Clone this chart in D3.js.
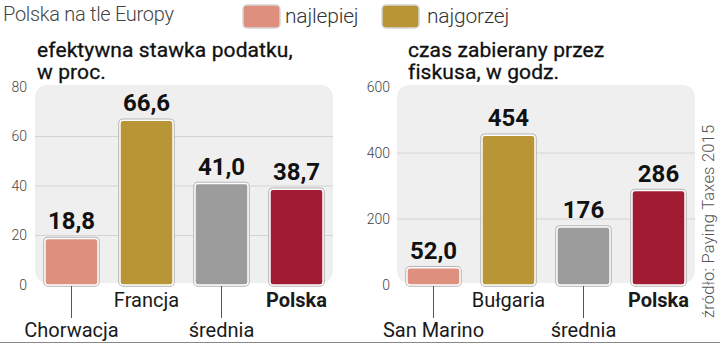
<!DOCTYPE html>
<html>
<head>
<meta charset="utf-8">
<script src="https://cdn.jsdelivr.net/npm/d3@7"></script>
<style>
  html, body { margin: 0; padding: 0; background: #fff; }
  svg { display: block; }
  text { font-family: Roboto, "Liberation Sans", sans-serif; }
</style>
</head>
<body>
<svg id="chart" width="720" height="344"></svg>
<script>
// ---- data ----
const title = "Polska na tle Europy";
const legendLabels = ["najlepiej", "najgorzej"];
const leftSubtitle = ["efektywna stawka podatku,", "w proc."];
const leftCategories = ["Chorwacja", "Francja", "średnia", "Polska"];
const leftValues = [18.8, 66.6, 41.0, 38.7];
const leftValueLabels = ["18,8", "66,6", "41,0", "38,7"];
const leftTicks = [0, 20, 40, 60, 80];
const rightSubtitle = ["czas zabierany przez", "fiskusa, w godz."];
const rightCategories = ["San Marino", "Bułgaria", "średnia", "Polska"];
const rightValues = [52.0, 454, 176, 286];
const rightValueLabels = ["52,0", "454", "176", "286"];
const rightTicks = [0, 200, 400, 600];
const source = "źródło: Paying Taxes 2015";
const barColors = ["#df8f7d", "#b89636", "#9c9c9c", "#a11c33"];

const svg = d3.select("#chart");

// title
svg.append("text").attr("x", 3).attr("y", 21)
  .attr("font-size", 20).attr("font-weight", 300).attr("fill", "#444")
  .attr("letter-spacing", -0.3)
  .text(title);

// legend
const legendPos = [{x: 243, tx: 285}, {x: 382, tx: 427}];
legendLabels.forEach((l, i) => {
  svg.append("rect").attr("x", legendPos[i].x).attr("y", 5).attr("width", 37).attr("height", 23)
    .attr("rx", 4).attr("fill", barColors[i]).attr("stroke", "#d6d6d6").attr("stroke-width", 1.5);
  svg.append("text").attr("x", legendPos[i].tx).attr("y", 23)
    .attr("font-size", 21).attr("font-weight", 300).attr("fill", "#333")
    .attr("letter-spacing", -0.2)
    .text(l);
});

function panel(cfg) {
  const g = svg.append("g");
  const x = d3.scaleBand().domain(cfg.categories).range([cfg.x0, cfg.x1])
    .paddingInner(0.293).paddingOuter(0.133);
  const y = d3.scaleLinear().domain([0, cfg.max]).range([285, 87]);

  // subtitle
  cfg.subtitle.forEach((s, i) => {
    g.append("text").attr("x", cfg.subX).attr("y", 57 + i * 22)
      .attr("font-size", 21).attr("font-weight", 400).attr("fill", "#111")
      .attr("stroke", "#111").attr("stroke-width", 0.3)
      .attr("letter-spacing", 0.1)
      .text(s);
  });

  // panel background
  g.append("rect").attr("x", cfg.x0).attr("y", 85).attr("width", cfg.x1 - cfg.x0)
    .attr("height", 198).attr("rx", 12).attr("fill", "#efefef");

  // gridlines
  g.selectAll(".grid").data(cfg.ticks.filter(t => t > 0 && t < cfg.max)).join("line")
    .attr("x1", cfg.x0).attr("x2", cfg.x1)
    .attr("y1", d => y(d)).attr("y2", d => y(d))
    .attr("stroke", "#d4d4d4").attr("stroke-width", 1);

  // y axis
  const axis = d3.axisLeft(y).tickValues(cfg.ticks).tickSize(0).tickPadding(0);
  const ag = g.append("g").attr("transform", `translate(${cfg.axisX},0)`).call(axis);
  ag.select(".domain").remove();
  ag.selectAll("text").attr("font-size", 14).attr("fill", "#444")
    .attr("font-family", "Roboto, sans-serif").attr("font-weight", 300);

  // bars
  const bars = g.selectAll(".bar").data(cfg.values).join("g");
  bars.append("rect")
    .attr("x", (d, i) => x(cfg.categories[i])).attr("width", x.bandwidth())
    .attr("y", d => y(d)).attr("height", d => y(0) - y(d))
    .attr("rx", 3).attr("fill", (d, i) => barColors[i])
    .attr("stroke", "#b4b4b4").attr("stroke-width", 3.5);
  bars.append("rect")
    .attr("x", (d, i) => x(cfg.categories[i])).attr("width", x.bandwidth())
    .attr("y", d => y(d)).attr("height", d => y(0) - y(d))
    .attr("rx", 3).attr("fill", (d, i) => barColors[i])
    .attr("stroke", "#ffffff").attr("stroke-width", 1.5);

  // value labels
  g.selectAll(".val").data(cfg.values).join("text")
    .attr("x", (d, i) => x(cfg.categories[i]) + x.bandwidth() / 2)
    .attr("y", d => y(d) - 9)
    .attr("text-anchor", "middle").attr("font-size", 24).attr("font-weight", 700)
    .attr("fill", "#111")
    .text((d, i) => cfg.valueLabels[i]);

  // category labels
  cfg.categories.forEach((c, i) => {
    const cx = x(c) + x.bandwidth() / 2;
    const low = i % 2 === 0;
    if (low) {
      g.append("line").attr("x1", cx).attr("x2", cx).attr("y1", y(0) + 1).attr("y2", 318)
        .attr("stroke", "#555").attr("stroke-width", 1);
    }
    g.append("text").attr("x", cx).attr("y", low ? 337 : 307)
      .attr("text-anchor", "middle").attr("font-size", 20)
      .attr("font-weight", c === "Polska" ? 700 : 400).attr("fill", "#1a1a1a")
      .text(c);
  });
}

panel({categories: leftCategories, values: leftValues, valueLabels: leftValueLabels,
  ticks: leftTicks, max: 80, x0: 35, x1: 333, axisX: 27, subtitle: leftSubtitle, subX: 37});
panel({categories: rightCategories, values: rightValues, valueLabels: rightValueLabels,
  ticks: rightTicks, max: 600, x0: 397, x1: 695, axisX: 390, subtitle: rightSubtitle, subX: 408});

// source
svg.append("text").attr("transform", "translate(714,318) rotate(-90)")
  .attr("font-size", 16.5).attr("font-weight", 300).attr("fill", "#555")
  .attr("letter-spacing", 0.2)
  .text(source);

// bottom rule
svg.append("line").attr("x1", 0).attr("x2", 720).attr("y1", 342.5).attr("y2", 342.5)
  .attr("stroke", "#888").attr("stroke-width", 1);
</script>
</body>
</html>
